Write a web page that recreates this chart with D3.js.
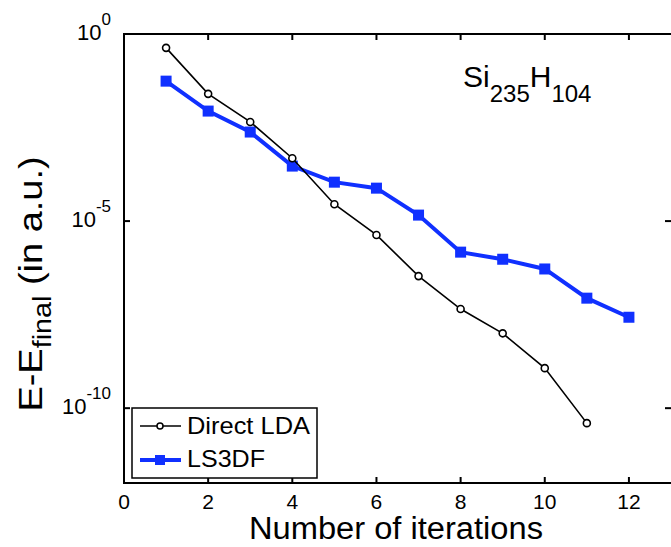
<!DOCTYPE html>
<html>
<head>
<meta charset="utf-8">
<script src="https://cdn.jsdelivr.net/npm/d3@7"></script>
<style>
  body { margin: 0; background: #fff; }
  text { font-family: "Liberation Sans", Arial, sans-serif; }
</style>
</head>
<body>
<svg id="chart" width="671" height="547"></svg>
<script>
// iterations
const iterLDA = [1, 2, 3, 4, 5, 6, 7, 8, 9, 10, 11];
const iterLS3DF = [1, 2, 3, 4, 5, 6, 7, 8, 9, 10, 11, 12];
// log10(E - E_final)
const logLDA = [-0.37, -1.60, -2.35, -3.32, -4.55, -5.37, -6.47, -7.35, -8.0, -8.93, -10.40];
const logLS3DF = [-1.26, -2.06, -2.62, -3.53, -3.96, -4.12, -4.84, -5.83, -6.02, -6.28, -7.06, -7.57];
const xTicks = [0, 2, 4, 6, 8, 10, 12];
const yTicks = [0, -5, -10];

const svg = d3.select("#chart");
const margin = { left: 124, top: 34, right: 671, bottom: 483 };

const x = d3.scaleLinear().domain([0, 13]).range([margin.left, margin.right]);
const y = d3.scaleLog().domain([1e-12, 1]).range([margin.bottom, margin.top]);

// box (right edge lies just outside the window)
svg.append("rect")
  .attr("x", margin.left).attr("y", margin.top)
  .attr("width", margin.right + 3 - margin.left).attr("height", margin.bottom - margin.top)
  .attr("fill", "none").attr("stroke", "#000").attr("stroke-width", 2);

// x ticks (bottom + top, inward)
xTicks.forEach(t => {
  svg.append("line").attr("x1", x(t)).attr("x2", x(t))
    .attr("y1", margin.bottom).attr("y2", margin.bottom - 6)
    .attr("stroke", "#000").attr("stroke-width", 2);
  svg.append("line").attr("x1", x(t)).attr("x2", x(t))
    .attr("y1", margin.top).attr("y2", margin.top + 6)
    .attr("stroke", "#000").attr("stroke-width", 2);
  svg.append("text").attr("x", x(t)).attr("y", 509)
    .attr("text-anchor", "middle").attr("font-size", 21).text(t);
});

// y ticks (left + right, inward)
yTicks.forEach(e => {
  const v = Math.pow(10, e);
  svg.append("line").attr("x1", margin.left).attr("x2", margin.left + 6)
    .attr("y1", y(v)).attr("y2", y(v)).attr("stroke", "#000").attr("stroke-width", 2);
  svg.append("line").attr("x1", margin.right).attr("x2", margin.right - 6)
    .attr("y1", y(v)).attr("y2", y(v)).attr("stroke", "#000").attr("stroke-width", 2);
  const lbl = svg.append("text").attr("x", 111).attr("y", y(v) + 6)
    .attr("text-anchor", "end").attr("font-size", 22);
  lbl.append("tspan").text("10");
  lbl.append("tspan").attr("dy", -15).attr("font-size", 17).text(e);
});

// axis labels
svg.append("text").attr("x", 396).attr("y", 539)
  .attr("text-anchor", "middle").attr("font-size", 31)
  .attr("textLength", 294).attr("lengthAdjust", "spacingAndGlyphs")
  .text("Number of iterations");

const yl = svg.append("text").attr("transform", "translate(42,284) rotate(-90) scale(1.15,1)")
  .attr("text-anchor", "middle").attr("font-size", 33);
yl.append("tspan").text("E-E");
yl.append("tspan").attr("dy", 9).attr("font-size", 25).text("final");
yl.append("tspan").attr("dy", -9).text(" (in a.u.)");

// formula
const tt = svg.append("text").attr("x", 463).attr("y", 87).attr("font-size", 30);
tt.append("tspan").text("Si");
tt.append("tspan").attr("dy", 15).attr("font-size", 24).text("235");
tt.append("tspan").attr("dy", -15).text("H");
tt.append("tspan").attr("dy", 15).attr("font-size", 24).text("104");

const line = d3.line().x(d => x(d[0])).y(d => y(Math.pow(10, d[1])));
const blue = "#1030ff";

const ldaData = iterLDA.map((d, i) => [d, logLDA[i]]);
const lsData = iterLS3DF.map((d, i) => [d, logLS3DF[i]]);

svg.append("path").datum(lsData).attr("d", line)
  .attr("fill", "none").attr("stroke", blue).attr("stroke-width", 4);
svg.selectAll(".sq").data(lsData).enter().append("rect")
  .attr("x", d => x(d[0]) - 5.5).attr("y", d => y(Math.pow(10, d[1])) - 5.5)
  .attr("width", 11).attr("height", 11).attr("fill", blue);

svg.append("path").datum(ldaData).attr("d", line)
  .attr("fill", "none").attr("stroke", "#000").attr("stroke-width", 1.6);
svg.selectAll(".ci").data(ldaData).enter().append("circle")
  .attr("cx", d => x(d[0])).attr("cy", d => y(Math.pow(10, d[1])))
  .attr("r", 3.5).attr("fill", "#fff").attr("stroke", "#000").attr("stroke-width", 1.6);

// legend
const lg = svg.append("g");
lg.append("rect").attr("x", 132).attr("y", 408).attr("width", 185).attr("height", 70)
  .attr("fill", "#fff").attr("stroke", "#000").attr("stroke-width", 1.5);
lg.append("line").attr("x1", 140).attr("x2", 181).attr("y1", 426).attr("y2", 426)
  .attr("stroke", "#000").attr("stroke-width", 1.6);
lg.append("circle").attr("cx", 160).attr("cy", 426).attr("r", 3)
  .attr("fill", "#fff").attr("stroke", "#000").attr("stroke-width", 1.5);
lg.append("text").attr("x", 187).attr("y", 434).attr("font-size", 24)
  .attr("textLength", 123).attr("lengthAdjust", "spacingAndGlyphs").text("Direct LDA");
lg.append("line").attr("x1", 140).attr("x2", 181).attr("y1", 460).attr("y2", 460)
  .attr("stroke", blue).attr("stroke-width", 4);
lg.append("rect").attr("x", 155).attr("y", 455).attr("width", 10).attr("height", 10).attr("fill", blue);
lg.append("text").attr("x", 187).attr("y", 467).attr("font-size", 24)
  .attr("textLength", 78).attr("lengthAdjust", "spacingAndGlyphs").text("LS3DF");
</script>
</body>
</html>
